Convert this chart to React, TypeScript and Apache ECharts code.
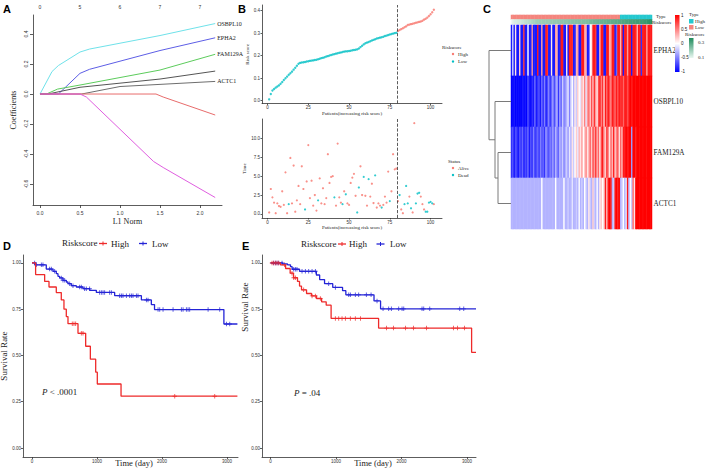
import React, { useEffect, useRef } from "react";
import * as echarts from "echarts";

const SERIF = "'Liberation Serif','Times New Roman',serif";
const SANS = "'Liberation Sans',Arial,sans-serif";

// ---------- Panel A: LASSO coefficient paths (L1 norm, coefficient) ----------
const lassoTicks = [0, 0.5, 1, 1.5, 2];
const lassoTopLabels = ["0", "5", "6", "7", "7"];
const coefTicks = [-0.6, -0.4, -0.2, 0, 0.2, 0.4];
const pathOSBPL10 = [[0, 0], [0.15, 0.15], [0.23, 0.19], [0.5, 0.28], [0.62, 0.3], [1.5, 0.39], [2.19, 0.47]];
const pathEPHA2 = [[0, 0], [0.23, 0], [0.5, 0.138], [0.62, 0.165], [1.5, 0.29], [2.19, 0.375]];
const pathFAM129A = [[0, 0], [0.08, 0], [0.22, 0.033], [0.5, 0.06], [1.5, 0.16], [2.19, 0.265]];
const pathGrayA = [[0, 0], [0.1, 0], [0.5, 0.045], [1.5, 0.1], [2.19, 0.153]];
const pathACTC1 = [[0, 0], [0.52, 0], [1.0, 0.05], [2.19, 0.084]];
const pathRedA = [[0, 0], [1.45, 0], [1.54, -0.02], [2.19, -0.14]];
const pathMagentaA = [[0, 0], [0.5, 0], [0.58, -0.02], [1.42, -0.45], [1.54, -0.49], [2.19, -0.69]];

// ---------- Panel B: risk score & survival per patient ----------
const patientTicks = [0, 25, 50, 75, 100];
const riskTicks = [0, 0.1, 0.2, 0.3, 0.4];
const timeTicks = [0, 2.5, 5, 7.5, 10];
const lowCount = 79;
const riskScores = [
  0.006, 0.030, 0.045, 0.052, 0.058, 0.063, 0.068, 0.075, 0.083, 0.092, 0.100, 0.107, 0.115, 0.122, 0.129, 0.138, 0.146, 0.155, 0.164,
  0.168, 0.170, 0.171, 0.172, 0.174, 0.175, 0.177, 0.178, 0.179, 0.181, 0.182, 0.184,
  0.186, 0.189, 0.191, 0.193, 0.196, 0.198, 0.201, 0.203,
  0.205, 0.207, 0.209, 0.211, 0.213, 0.214, 0.216, 0.218,
  0.219, 0.220, 0.221, 0.222, 0.224, 0.225, 0.226, 0.228,
  0.232, 0.238, 0.244, 0.250, 0.255,
  0.258, 0.261, 0.264, 0.267, 0.270, 0.273,
  0.276, 0.278, 0.280, 0.282, 0.284, 0.287, 0.289, 0.292,
  0.294, 0.296, 0.298, 0.300, 0.302,
  0.310, 0.314, 0.318, 0.322, 0.326, 0.330, 0.336, 0.338, 0.340, 0.342, 0.344, 0.346,
  0.348, 0.350, 0.352, 0.355, 0.360, 0.364, 0.369, 0.376, 0.384, 0.393, 0.404,
];
const survTimes = [
  0.2, 3.3, 2.2, 1.5, 0.1, 1.4, 1.05, 0.95, 3.0, 1.2, 5.5, 0.1,
  1.3, 7.4, 1.4, 6.4, 0.3, 1.8, 3.7, 1.3, 6.3, 3.3, 0.6, 4.3,
  9.1, 2.1, 4.4, 1.1, 2.5, 0.45, 1.8, 4.7, 1.4, 3.4, 1.3, 2.1,
  7.9, 4.1, 4.9, 5.0, 2.2, 1.1, 9.3, 2.2, 1.5, 1.3, 3.0, 2.6,
  1.4, 1.2, 4.1, 4.8, 5.3, 2.4, 0.2, 3.5, 6.3, 2.5, 4.9, 2.4,
  1.1, 4.6, 2.3, 4.0, 1.45, 5.1, 0.85, 1.4, 1.1, 0.85, 1.2, 2.3,
  1.5, 5.6, 1.7, 3.0, 7.9, 5.9, 6.0, 1.7, 2.5, 0.6, 0.1, 1.3,
  3.7, 1.4, 2.3, 0.75, 0.2, 12.0, 1.4, 2.7, 2.8, 2.3, 1.3, 0.6,
  0.3, 0.3, 1.5, 1.6, 1.4, 1.3,
];
const deadStatus = [
  0, 0, 0, 0, 0, 0, 0, 0, 0, 0, 0, 0,
  1, 0, 0, 0, 0, 0, 0, 0, 0, 0, 1, 0,
  0, 0, 0, 0, 0, 0, 1, 0, 0, 0, 0, 0,
  0, 0, 0, 0, 1, 0, 0, 0, 0, 1, 0, 1,
  0, 0, 0, 0, 0, 0, 1, 1, 0, 0, 1, 0,
  0, 1, 0, 0, 0, 1, 0, 0, 0, 1, 0, 0,
  0, 0, 1, 0, 0, 0, 0, 0, 1, 0, 0, 1,
  1, 1, 0, 1, 0, 0, 1, 1, 1, 0, 0, 0,
  1, 1, 1, 1, 1, 0,
];

// ---------- Panel C: expression heatmap (patients sorted by risk) ----------
const geneOrder = ["EPHA2", "OSBPL10", "FAM129A", "ACTC1"];
const exprEPHA2 = [
  -0.9, -0.2, -0.9, 0.1, -0.9, -0.9, 0.2, -0.9, -0.9, 0.8,
  -0.9, -0.9, 0.0, -0.9, -0.9, 0.4, -0.9, -0.9, -0.9, 0.9,
  -0.9, -0.9, 0.4, -0.9, -0.9, 0.9, 0.8, -0.9, -0.9, 0.1,
  -0.9, -0.9, 0.4, 0.3, -0.9, -0.9, 0.9, 0.9, -0.9, -0.9,
  0.1, -0.9, 0.9, 0.9, 0.8, -0.9, -0.9, 0.3, 0.4, -0.9,
  -0.9, 0.9, 0.9, 0.4, 0.3, -0.9, -0.9, 0.0, 0.1, 0.9,
  0.9, 0.8, -0.9, -0.9, 0.3, 0.9, 0.9, -0.9, -0.9, 0.9,
  0.9, 0.3, 0.4, 0.9, 0.9, -0.9, -0.6, 0.9, 0.9, 0.3,
  0.9, -0.9, 0.9, 0.9, 0.4, 0.9, 0.9, -0.9, 0.9, 0.9,
  0.9, 0.3, 0.9, 0.9, -0.8, 0.9, 0.9, 0.9, 0.4, 0.9, 0.9, 0.9,
];
const exprOSBPL10 = [
  -1, -1, -0.9, -1, -1, -0.95, -1, -1, -0.9, -1,
  -0.9, -1, -0.7, -0.9, -1, -0.8, -0.9, -0.6, -0.9, -0.8,
  -0.7, -0.9, -0.6, -0.8, -0.5, -0.9, -0.7, -0.5, -0.8, -0.6,
  -0.4, -0.7, -0.5, -0.3, -0.8, -0.4, -0.6, -0.2, -0.5, -0.4,
  -0.3, -0.1, -0.5, -0.2, 0.0, -0.3, 0.1, -0.2, 0.2, 0.0,
  -0.1, 0.3, 0.1, 0.5, -0.1, 0.4, 0.6, 0.2, 0.7, 0.3,
  0.8, 0.4, 0.1, 0.7, 0.9, 0.5, 0.8, 0.2, 0.9, 0.6,
  0.9, 0.7, 0.5, 0.9, 0.8, 0.6, 0.9, 0.7, 0.9, 0.8,
  0.9, 0.6, 0.9, 0.9, 0.7, 0.9, 1, 0.9, 1, 1,
  1, 1, 1, 1, 1, 1, 1, 1, 1, 1, 1, 1,
];
const exprFAM129A = [
  -0.8, -0.7, -0.9, -0.7, -0.8, -0.9, -0.7, -0.8, -0.6, -0.9,
  -0.7, -0.8, -0.6, -0.9, -0.7, -0.8, -0.5, -0.8, -0.7, -0.6,
  -0.8, -0.5, -0.7, -0.6, -0.8, -0.4, -0.6, -0.7, -0.5, -0.6,
  -0.4, -0.6, -0.3, -0.5, -0.6, -0.3, -0.4, -0.2, -0.5, -0.3,
  -0.2, -0.4, -0.1, -0.3, 0.1, -0.2, 0.0, 0.2, -0.1, 0.3,
  0.1, 0.4, 0.0, 0.2, 0.5, 0.1, 0.3, 0.6, 0.2, 0.7,
  0.4, 0.8, 0.3, 0.6, 0.1, 0.7, 0.9, 0.4, 0.2, 0.8,
  0.5, 0.1, 0.6, 0.3, 0.9, 0.2, 0.5, 0.7, 0.1, 0.6,
  0.3, 0.9, 0.9, 1, 0.9, 1, 1, -0.4, 1, 1,
  0.9, 1, 1, 1, 1, 1, 1, 1, 1, 1, 1, 1,
];
const exprACTC1 = [
  -0.3, -0.3, -0.3, -0.3, -0.3, -0.3, -0.3, -0.3, -0.3, -0.3,
  -0.3, -0.3, -0.3, -0.3, -0.3, -0.3, -0.3, -0.3, -0.3, -0.3,
  -0.3, -0.3, 0.0, -0.3, -0.3, -0.3, -0.3, -0.3, -0.3, -0.3,
  -0.3, -0.3, 0.0, -0.3, -0.3, -0.3, -0.3, -0.3, 0.0, -0.3,
  -0.3, -0.2, -0.3, -0.3, -0.1, -0.3, -0.3, -0.2, -0.3, 0.0,
  -0.3, -0.2, -0.3, 0.0, -0.2, -0.3, 0.1, -0.2, -0.3, 0.2,
  -0.2, -0.3, 0.0, -0.3, 0.1, 0.2, 0.0, 0.2, 0.9, 0.3,
  0.9, 1, 0.9, -0.3, -0.2, 0.9, 1, 0.9, 1, -0.3,
  -0.2, 0.0, -0.3, -0.1, 0.9, -0.3, 0.0, -0.2, 0.6, 0.1,
  1, 1, 1, 1, 1, 1, 1, 1, 1, 1, 1, 1,
];
const dendroMerges = [
  { a: "FAM129A", b: "ACTC1", h: 1.3 },
  { a: "OSBPL10", b: "m0", h: 1.6 },
  { a: "EPHA2", b: "m1", h: 2.2 },
];
const heatLegendLabels = ["1", "0.5", "0", "-0.5", "-1"];

// ---------- Panels D & E: Kaplan-Meier (time in days, survival) ----------
const kmTimeTicks = [0, 1000, 2000, 3000];
const kmSurvTicks = [0, 0.25, 0.5, 0.75, 1];
const dHighSteps = [[0, 1], [56, 0.937], [195, 0.9], [262, 0.87], [374, 0.84], [451, 0.8], [492, 0.75], [528, 0.71], [554, 0.672], [708, 0.62], [826, 0.55], [898, 0.48], [980, 0.41], [1005, 0.346], [1370, 0.28], [3160, 0.28]];
const dHighCensor = [620, 646, 672, 759, 785, 2196, 2811];
const dLowSteps = [[0, 1], [51, 0.99], [220, 0.967], [323, 0.955], [374, 0.942], [400, 0.928], [426, 0.919], [477, 0.906], [528, 0.897], [554, 0.888], [605, 0.877], [682, 0.87], [785, 0.861], [888, 0.852], [990, 0.841], [1272, 0.823], [1683, 0.8], [1836, 0.775], [1885, 0.748], [2952, 0.67], [3160, 0.67]];
const dLowCensor = [41, 67, 144, 169, 272, 298, 349, 451, 477, 503, 580, 631, 734, 759, 810, 836, 887, 1041, 1067, 1093, 1118, 1195, 1221, 1349, 1375, 1400, 1452, 1503, 1529, 1554, 1606, 1631, 1760, 1785, 1939, 1965, 2016, 2170, 2298, 2324, 2375, 2401, 2426, 2709, 2888, 2991, 3042];
const eHighSteps = [[0, 1], [150, 0.99], [230, 0.97], [300, 0.945], [351, 0.92], [412, 0.9], [443, 0.875], [473, 0.855], [550, 0.835], [626, 0.822], [702, 0.808], [780, 0.79], [850, 0.772], [925, 0.7], [1650, 0.648], [3070, 0.517], [3137, 0.517]];
const eHighCensor = [23, 48, 74, 99, 125, 215, 328, 354, 379, 506, 634, 685, 761, 990, 1041, 1092, 1143, 1219, 1295, 1374, 1771, 1878, 2061, 2183, 2382, 2794, 2855, 2962];
const eLowSteps = [[0, 1], [183, 0.995], [260, 0.99], [305, 0.98], [330, 0.966], [443, 0.955], [700, 0.935], [750, 0.91], [825, 0.888], [950, 0.868], [1100, 0.85], [1150, 0.828], [1580, 0.795], [1680, 0.752], [3137, 0.752]];
const eLowCensor = [48, 74, 99, 125, 176, 354, 379, 404, 481, 532, 583, 634, 685, 888, 990, 1194, 1219, 1295, 1346, 1463, 1535, 1626, 1718, 1804, 1845, 1957, 2008, 2034, 2313, 2339, 2431, 2889, 2950];

const C_HIGH = "#F8766D";
const C_LOW = "#00BFC4";
const KM_RED = "#ee2a2a";
const KM_BLUE = "#2424d6";
const TYPE_LOW = "#F4857E";
const TYPE_HIGH = "#24C8CF";
const PLUS = "path://M4,0H6V4H10V6H6V10H4V6H0V4H4Z";

function survAt(steps: number[][], t: number) {
  let s = steps[0][1];
  for (const [x, y] of steps) {
    if (t >= x) s = y;
    else break;
  }
  return s;
}

const axLine = (show = true) => ({ show, onZero: false, lineStyle: { color: "#333", width: 0.8 } });
const axTick = (len: number, vals: number[], show = true) => ({ show, length: len, customValues: vals, lineStyle: { color: "#333", width: 0.8 } });
const axLabel = (size: number, vals: number[], fmt: any, margin: number, extra: any = {}) => ({
  fontSize: size, color: "#333", fontFamily: SANS, customValues: vals, formatter: fmt, margin, ...extra,
});

function txt(text: string, x: number, y: number, size: number, o: any = {}) {
  return {
    type: "text", x, y, z: 100, rotation: o.rot || 0,
    style: {
      text, fontSize: size, fontFamily: o.family || SERIF, fontWeight: o.weight || "normal",
      fill: o.color || "#222", align: o.align || "left", verticalAlign: o.valign || "middle", rich: o.rich,
    },
  };
}

export default function App() {
  const ref = useRef<HTMLDivElement>(null);
  useEffect(() => {
    document.body.style.margin = "0";
    const chart = echarts.init(ref.current!, null, { renderer: "svg" });

    const series: any[] = [];

    // ---- A ----
    const lassoPaths = [
      { name: "OSBPL10", color: "#6fe2ea", data: pathOSBPL10, label: true },
      { name: "EPHA2", color: "#5d5ee6", data: pathEPHA2, label: true },
      { name: "FAM129A", color: "#5ccc5c", data: pathFAM129A, label: true },
      { name: "g4", color: "#555555", data: pathGrayA, label: false },
      { name: "ACTC1", color: "#6e6e6e", data: pathACTC1, label: true },
      { name: "g6", color: "#e86c6c", data: pathRedA, label: false },
      { name: "g7", color: "#e05ee0", data: pathMagentaA, label: false },
    ];
    lassoPaths.forEach((p) =>
      series.push({
        type: "line", xAxisIndex: 0, yAxisIndex: 0, data: p.data, symbol: "none", silent: true,
        lineStyle: { color: p.color, width: 1 }, itemStyle: { color: p.color },
        endLabel: { show: p.label, formatter: p.name, fontSize: 6, fontFamily: SERIF, color: "#222", distance: 2 },
      })
    );

    // ---- B ----
    const riskLow = riskScores.slice(0, lowCount).map((v, i) => [i + 1, v]);
    const riskHigh = riskScores.slice(lowCount).map((v, i) => [lowCount + i + 1, v]);
    const cutoff = lowCount + 0.5;
    const dashed = {
      silent: true, symbol: "none", label: { show: false },
      lineStyle: { type: "dashed", color: "#333", width: 0.8 }, data: [{ xAxis: cutoff }],
    };
    series.push({ type: "scatter", xAxisIndex: 2, yAxisIndex: 1, data: riskLow, symbolSize: 2.4, itemStyle: { color: C_LOW }, silent: true, markLine: dashed });
    series.push({ type: "scatter", xAxisIndex: 2, yAxisIndex: 1, data: riskHigh, symbolSize: 2.4, itemStyle: { color: C_HIGH }, silent: true });
    const alive: number[][] = [];
    const dead: number[][] = [];
    survTimes.forEach((t, i) => (deadStatus[i] ? dead : alive).push([i + 1, t]));
    series.push({ type: "scatter", xAxisIndex: 3, yAxisIndex: 2, data: alive, symbolSize: 2.2, itemStyle: { color: C_HIGH }, silent: true, markLine: dashed });
    series.push({ type: "scatter", xAxisIndex: 3, yAxisIndex: 2, data: dead, symbolSize: 2.2, itemStyle: { color: C_LOW }, silent: true });

    // ---- C ----
    const typeIdx = series.length;
    series.push({
      type: "heatmap", xAxisIndex: 4, yAxisIndex: 3, silent: true, emphasis: { disabled: true },
      data: riskScores.map((_, i) => [i, 1, i < lowCount ? 0 : 1]),
    });
    const riskIdx = series.length;
    series.push({
      type: "heatmap", xAxisIndex: 4, yAxisIndex: 3, silent: true, emphasis: { disabled: true },
      data: riskScores.map((v, i) => [i, 0, v]),
    });
    const exprRows = [exprEPHA2, exprOSBPL10, exprFAM129A, exprACTC1];
    const geneIdx = series.length;
    const geneData: number[][] = [];
    exprRows.forEach((row, r) => row.forEach((v, c) => geneData.push([c, r, v])));
    series.push({ type: "heatmap", xAxisIndex: 5, yAxisIndex: 4, silent: true, emphasis: { disabled: true }, data: geneData });

    // dendrogram
    const nodes: Record<string, { y: number; h: number }> = {};
    geneOrder.forEach((g, i) => (nodes[g] = { y: i + 0.5, h: 0 }));
    const dendroLines: any[] = [];
    dendroMerges.forEach((m, k) => {
      const A = nodes[m.a];
      const B = nodes[m.b];
      dendroLines.push({ coords: [[A.h, A.y], [m.h, A.y], [m.h, B.y], [B.h, B.y]] });
      nodes["m" + k] = { y: (A.y + B.y) / 2, h: m.h };
    });
    series.push({
      type: "lines", coordinateSystem: "cartesian2d", xAxisIndex: 6, yAxisIndex: 5, polyline: true, silent: true,
      data: dendroLines, lineStyle: { color: "#7a7a7a", width: 1, opacity: 1 },
    });

    // ---- D & E ----
    const km = (xi: number, yi: number, steps: number[][], cens: number[], color: string) => {
      series.push({ type: "line", xAxisIndex: xi, yAxisIndex: yi, data: steps, step: "end", symbol: "none", silent: true, lineStyle: { color, width: 1.3 } });
      series.push({
        type: "scatter", xAxisIndex: xi, yAxisIndex: yi, symbol: PLUS, symbolSize: 4.5, silent: true,
        itemStyle: { color }, data: cens.map((t) => [t, survAt(steps, t)]),
      });
    };
    km(7, 6, dLowSteps, dLowCensor, KM_BLUE);
    km(7, 6, dHighSteps, dHighCensor, KM_RED);
    km(8, 7, eLowSteps, eLowCensor, KM_BLUE);
    km(8, 7, eHighSteps, eHighCensor, KM_RED);

    const cats = riskScores.map((_, i) => String(i));
    const hidden = { show: false };
    const fmt1 = (v: number) => v.toFixed(1);
    const fmt2 = (v: number) => v.toFixed(2);
    const serifName = (size: number) => ({ fontFamily: SERIF, fontSize: size, color: "#222" });

    const option: any = {
      animation: false,
      backgroundColor: "#ffffff",
      textStyle: { fontFamily: SANS },
      grid: [
        { left: 33, top: 15, width: 189, height: 190 },
        { left: 262, top: 5, width: 180, height: 98.5 },
        { left: 262, top: 119, width: 180, height: 99 },
        { left: 511, top: 15, width: 141, height: 9 },
        { left: 511, top: 25, width: 141, height: 204 },
        { left: 489, top: 25, width: 22, height: 204 },
        { left: 23, top: 255, width: 215, height: 202 },
        { left: 262, top: 255, width: 214, height: 202 },
      ].map((g) => ({ ...g, containLabel: false, outerBoundsMode: "none" })),
      xAxis: [
        {
          type: "value", gridIndex: 0, min: -0.0875, max: 2.275, axisLine: axLine(), axisTick: axTick(3, lassoTicks),
          axisLabel: axLabel(5, lassoTicks, fmt1, 5), splitLine: hidden,
          name: "L1 Norm", nameLocation: "middle", nameGap: 12, nameTextStyle: serifName(8),
        },
        {
          type: "value", gridIndex: 0, position: "top", min: -0.0875, max: 2.275, axisLine: axLine(false),
          axisTick: axTick(2, lassoTicks, false), splitLine: hidden,
          axisLabel: axLabel(5, lassoTicks, (v: number) => lassoTopLabels[lassoTicks.indexOf(v)] ?? "", 6, { color: "#333" }),
        },
        {
          type: "value", gridIndex: 1, min: -3.4, max: 107, axisLine: axLine(), axisTick: axTick(1.5, patientTicks),
          axisLabel: axLabel(4.5, patientTicks, (v: number) => String(v), 1.5), splitLine: hidden,
          name: "Patients(increasing risk score)", nameLocation: "middle", nameGap: 6, nameTextStyle: serifName(5),
        },
        {
          type: "value", gridIndex: 2, min: -3.4, max: 107, axisLine: axLine(), axisTick: axTick(1.5, patientTicks),
          axisLabel: axLabel(4.5, patientTicks, (v: number) => String(v), 1.5), splitLine: hidden,
          name: "Patients(increasing risk score)", nameLocation: "middle", nameGap: 6, nameTextStyle: serifName(5),
        },
        { type: "category", gridIndex: 3, data: cats, show: false },
        { type: "category", gridIndex: 4, data: cats, show: false },
        { type: "value", gridIndex: 5, min: 0, max: 2.2, inverse: true, show: false },
        {
          type: "value", gridIndex: 6, min: -138, max: 3169, axisLine: axLine(), axisTick: axTick(2, kmTimeTicks),
          axisLabel: axLabel(4.5, kmTimeTicks, (v: number) => String(v), 1.5), splitLine: hidden,
        },
        {
          type: "value", gridIndex: 7, min: -130, max: 3137, axisLine: axLine(), axisTick: axTick(2, kmTimeTicks),
          axisLabel: axLabel(4.5, kmTimeTicks, (v: number) => String(v), 1.5), splitLine: hidden,
        },
      ],
      yAxis: [
        {
          type: "value", gridIndex: 0, min: -0.74, max: 0.527, axisLine: axLine(), axisTick: axTick(3, coefTicks),
          axisLabel: axLabel(5, coefTicks, fmt1, 5, { rotate: 90 }), splitLine: hidden,
          name: "Coefficients", nameLocation: "middle", nameGap: 16, nameTextStyle: serifName(8),
        },
        {
          type: "value", gridIndex: 1, min: -0.0124, max: 0.425, axisLine: axLine(), axisTick: axTick(1.5, riskTicks),
          axisLabel: axLabel(4.5, riskTicks, fmt1, 2), splitLine: hidden,
          name: "Risk score", nameLocation: "middle", nameGap: 8, nameTextStyle: serifName(5),
        },
        {
          type: "value", gridIndex: 2, min: -0.53, max: 12.55, axisLine: axLine(), axisTick: axTick(1.5, timeTicks),
          axisLabel: axLabel(4.5, timeTicks, fmt1, 2), splitLine: hidden,
          name: "Time", nameLocation: "middle", nameGap: 11, nameTextStyle: serifName(5),
        },
        { type: "category", gridIndex: 3, data: ["Riskscore", "Type"], show: false },
        {
          type: "category", gridIndex: 4, data: geneOrder, inverse: true, position: "right",
          axisLine: { show: false }, axisTick: { show: false },
          axisLabel: { fontFamily: SERIF, fontSize: 7.2, color: "#222", margin: 1.5 },
        },
        { type: "value", gridIndex: 5, min: 0, max: 4, inverse: true, show: false },
        {
          type: "value", gridIndex: 6, min: -0.0486, max: 1.043, axisLine: axLine(), axisTick: axTick(2, kmSurvTicks),
          axisLabel: axLabel(4.5, kmSurvTicks, fmt2, 2), splitLine: hidden,
          name: "Survival Rate", nameLocation: "middle", nameGap: 14, nameTextStyle: serifName(9),
        },
        {
          type: "value", gridIndex: 7, min: -0.0486, max: 1.043, axisLine: axLine(), axisTick: axTick(2, kmSurvTicks),
          axisLabel: axLabel(4.5, kmSurvTicks, fmt2, 2), splitLine: hidden,
        },
      ],
      visualMap: [
        { type: "continuous", show: false, seriesIndex: geneIdx, min: -1, max: 1, inRange: { color: ["#0000FF", "#FFFFFF", "#FF0000"] } },
        { type: "piecewise", show: false, seriesIndex: typeIdx, pieces: [{ value: 0, color: TYPE_LOW }, { value: 1, color: TYPE_HIGH }] },
        { type: "continuous", show: false, seriesIndex: riskIdx, min: 0, max: 0.42, inRange: { color: ["#F2FAF6", "#1E8B5B"] } },
      ],
      series,
      graphic: [
        // panel letters
        txt("A", 3, 9, 11, { family: SANS, weight: "bold", color: "#000" }),
        txt("B", 238, 9, 11, { family: SANS, weight: "bold", color: "#000" }),
        txt("C", 483, 9, 11, { family: SANS, weight: "bold", color: "#000" }),
        txt("D", 3, 246, 11, { family: SANS, weight: "bold", color: "#000" }),
        txt("E", 242, 246, 11, { family: SANS, weight: "bold", color: "#000" }),
        // B legends
        txt("Riskscore", 442, 47, 5),
        { type: "circle", z: 100, shape: { cx: 453, cy: 54, r: 1.2 }, style: { fill: C_HIGH } },
        txt("High", 458, 54, 5),
        { type: "circle", z: 100, shape: { cx: 453, cy: 61.5, r: 1.2 }, style: { fill: C_LOW } },
        txt("Low", 458, 61.5, 5),
        txt("Status", 448, 161, 5),
        { type: "circle", z: 100, shape: { cx: 453, cy: 168, r: 1.2 }, style: { fill: C_HIGH } },
        txt("Alive", 458, 168, 5),
        { type: "circle", z: 100, shape: { cx: 453, cy: 175, r: 1.2 }, style: { fill: C_LOW } },
        txt("Dead", 458, 175, 5),
        // C
        txt("Type", 656, 16, 5),
        txt("Riskscore", 652, 22, 5),
        {
          type: "rect", z: 100, shape: { x: 675, y: 15, width: 4.5, height: 57 },
          style: {
            fill: new echarts.graphic.LinearGradient(0, 0, 0, 1, [
              { offset: 0, color: "#FF0000" }, { offset: 0.5, color: "#FFFFFF" }, { offset: 1, color: "#0000FF" },
            ]),
          },
        },
        ...heatLegendLabels.map((l, i) => txt(l, 681, 15 + i * 14, 4.5, { family: SANS })),
        txt("Type", 689, 14.5, 5),
        { type: "rect", z: 100, shape: { x: 689, y: 19, width: 4.5, height: 4.5 }, style: { fill: TYPE_HIGH } },
        txt("High", 695, 21, 5),
        { type: "rect", z: 100, shape: { x: 689, y: 25, width: 4.5, height: 4.5 }, style: { fill: TYPE_LOW } },
        txt("Low", 695, 27.5, 5),
        txt("Riskscore", 685, 34.5, 5),
        {
          type: "rect", z: 100, shape: { x: 689, y: 38, width: 4.5, height: 20 },
          style: {
            fill: new echarts.graphic.LinearGradient(0, 0, 0, 1, [
              { offset: 0, color: "#1E8B5B" }, { offset: 1, color: "#EAF7F1" },
            ]),
          },
        },
        txt("0.3", 698, 42, 5),
        txt("0.1", 698, 57, 5),
        // D legend & titles
        txt("Riskscore", 62, 243, 9),
        { type: "line", z: 100, shape: { x1: 99, y1: 243.5, x2: 107, y2: 243.5 }, style: { stroke: KM_RED, lineWidth: 1.3 } },
        { type: "line", z: 100, shape: { x1: 103, y1: 241.5, x2: 103, y2: 245.5 }, style: { stroke: KM_RED, lineWidth: 1 } },
        txt("High", 111, 243.5, 9),
        { type: "line", z: 100, shape: { x1: 139, y1: 243.5, x2: 147, y2: 243.5 }, style: { stroke: KM_BLUE, lineWidth: 1.3 } },
        { type: "line", z: 100, shape: { x1: 143, y1: 241.5, x2: 143, y2: 245.5 }, style: { stroke: KM_BLUE, lineWidth: 1 } },
        txt("Low", 152, 243.5, 9),
        txt("{i|P} < .0001", 42, 392, 9, { rich: { i: { fontStyle: "italic", fontFamily: SERIF, fontSize: 9 } } }),
        txt("Time (day)", 134, 462.5, 8.5, { align: "center" }),
        // E legend & titles
        txt("Riskscore", 301, 243.5, 9),
        { type: "line", z: 100, shape: { x1: 338, y1: 244, x2: 346, y2: 244 }, style: { stroke: KM_RED, lineWidth: 1.3 } },
        { type: "line", z: 100, shape: { x1: 342, y1: 242, x2: 342, y2: 246 }, style: { stroke: KM_RED, lineWidth: 1 } },
        txt("High", 349, 244, 9),
        { type: "line", z: 100, shape: { x1: 376.5, y1: 244, x2: 384.5, y2: 244 }, style: { stroke: KM_BLUE, lineWidth: 1.3 } },
        { type: "line", z: 100, shape: { x1: 380.5, y1: 242, x2: 380.5, y2: 246 }, style: { stroke: KM_BLUE, lineWidth: 1 } },
        txt("Low", 390, 244, 9),
        txt("{i|P} = .04", 294, 393, 9, { rich: { i: { fontStyle: "italic", fontFamily: SERIF, fontSize: 9 } } }),
        txt("Survival Rate", 245, 307, 9, { rot: Math.PI / 2, align: "center" }),
        txt("Time (day)", 373, 462.5, 8.5, { align: "center" }),
      ],
    };
    chart.setOption(option);
    return () => chart.dispose();
  }, []);
  return <div ref={ref} style={{ width: 709, height: 470 }} />;
}
